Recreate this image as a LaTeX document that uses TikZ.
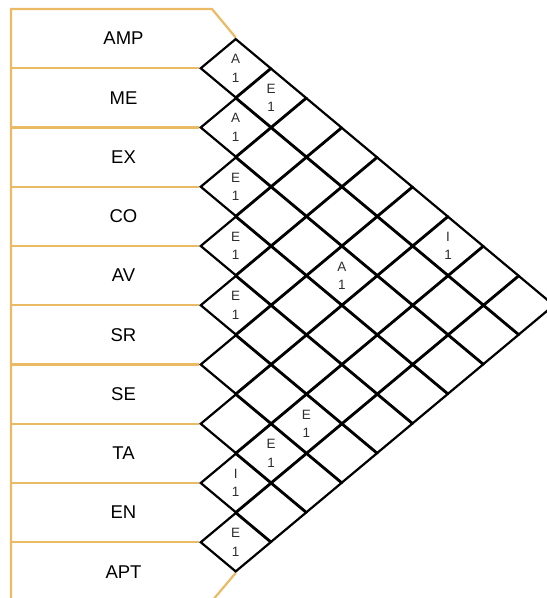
\documentclass[tikz,border=0pt]{standalone}
\usepackage{fontspec}
\setmainfont{Liberation Sans}
\usepackage{xcolor}
\usepackage{tikz}
\usetikzlibrary{shapes.geometric, backgrounds}
\definecolor{frameorange}{RGB}{234, 186, 100}
\definecolor{celltext}{RGB}{45, 45, 45}

\begin{document}
\begin{tikzpicture}[
    x=1pt, y=-1pt,
    rowline/.style={draw=frameorange, line width=2.2pt},
    cell/.style={diamond, draw=black, line width=2.2pt, minimum width=70.8pt, minimum height=59.25pt, inner sep=0pt},
    celltxt/.style={align=center, text=celltext, inner sep=0pt, font=\fontsize{13.5}{18.5}\selectfont},
    rowlbl/.style={font=\fontsize{18.5}{20}\selectfont, text=black},
]
\useasboundingbox (0,0) rectangle (547,598);
\clip (0,0) rectangle (547,598);

% --- Row labels (one per element) ---
\foreach \name [count=\i] in {AMP,ME,EX,CO,AV,SR,SE,TA,EN,APT}{
    \node[rowlbl] (r\i) at (123.5, {9+59.25*(\i-0.5)}) {\name};
}

% --- Diamond matrix: one cell for every pair i<j ---
\foreach \i in {1,...,9}{
    \pgfmathtruncatemacro{\jstart}{\i+1}
    \foreach \j in {\jstart,...,10}{
        \node[cell] (d-\i-\j) at ({235.7+35.4*(\j-\i-1)}, {9+59.25*(\i+\j-1)/2}) {};
    }
}

% --- Cell entries ---
\node[celltxt] (t-1-2) at (d-1-2) {A\\1};
\node[celltxt] (t-1-3) at (d-1-3) {E\\1};
\node[celltxt] (t-2-3) at (d-2-3) {A\\1};
\node[celltxt] (t-3-4) at (d-3-4) {E\\1};
\node[celltxt] (t-4-5) at (d-4-5) {E\\1};
\node[celltxt] (t-5-6) at (d-5-6) {E\\1};
\node[celltxt] (t-3-7) at (d-3-7) {A\\1};
\node[celltxt] (t-1-8) at (d-1-8) {I\\1};
\node[celltxt] (t-6-9) at (d-6-9) {E\\1};
\node[celltxt] (t-7-9) at (d-7-9) {E\\1};
\node[celltxt] (t-8-9) at (d-8-9) {I\\1};
\node[celltxt] (t-9-10) at (d-9-10) {E\\1};

% --- Orange row frame, behind the cells ---
\begin{scope}[on background layer]
    \draw[rowline] (11,601) -- (11,9) -- (212,9) -- (d-1-2.north);
    \draw[rowline] (d-9-10.south) -- (212,601) -- (11,601);
    \foreach \k in {1,...,9}{
        \pgfmathtruncatemacro{\kk}{\k+1}
        \draw[rowline] (11,{9+59.25*\k}) -- (d-\k-\kk.west);
    }
\end{scope}

\end{tikzpicture}
\end{document}
